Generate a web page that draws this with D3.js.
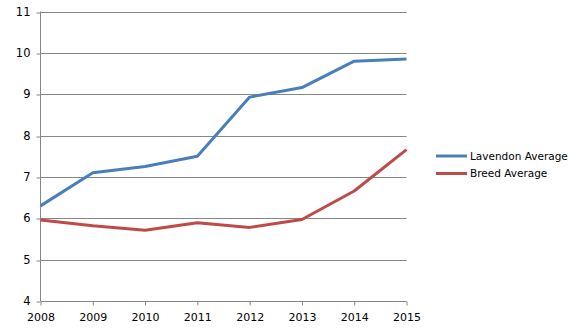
<!DOCTYPE html>
<html>
<head>
<meta charset="utf-8">
<script src="https://cdn.jsdelivr.net/npm/d3@7"></script>
<style>
  html, body { margin: 0; padding: 0; background: #fff; }
  svg { display: block; font-family: "DejaVu Sans", Verdana, sans-serif; }
</style>
</head>
<body>
<svg id="chart" width="581" height="332"></svg>
<script>
// Yearly averages
const years = [2008, 2009, 2010, 2011, 2012, 2013, 2014, 2015];
const lavendonAverage = [6.30, 7.10, 7.25, 7.50, 8.93, 9.16, 9.80, 9.85];
const breedAverage = [5.96, 5.82, 5.71, 5.89, 5.78, 5.97, 6.66, 7.66];
const yTicks = [4, 5, 6, 7, 8, 9, 10, 11];
const seriesNames = ["Lavendon Average", "Breed Average"];
const seriesColors = ["#4a7ebb", "#be4b48"];

(function () {
  const svg = d3.select("#chart");
  const plotLeft = 40.5, plotRight = 406.5, plotTop = 11.5, plotBottom = 301;

  const x = d3.scalePoint().domain(years).range([plotLeft, plotRight]);
  const y = d3.scaleLinear().domain([4, 11]).range([plotBottom, plotTop]);

  const gridColor = "#868686";
  const labelFont = "DejaVu Sans, Verdana, sans-serif";

  // Horizontal gridlines
  svg.append("g").selectAll("line").data(yTicks.slice(1)).join("line")
    .attr("x1", plotLeft).attr("x2", plotRight)
    .attr("y1", d => Math.round(y(d)) + 0.5).attr("y2", d => Math.round(y(d)) + 0.5)
    .attr("stroke", gridColor).attr("stroke-width", 1);

  // Y axis
  const yAxis = svg.append("g")
    .attr("transform", `translate(${plotLeft},0)`)
    .call(d3.axisLeft(y).tickValues(yTicks).tickSize(4).tickPadding(6).tickFormat(d3.format("d")));
  yAxis.selectAll("line").attr("stroke", gridColor)
    .attr("transform", d => `translate(0,${Math.round(y(d)) + 0.5 - y(d)})`);
  yAxis.select(".domain").attr("stroke", gridColor).attr("d", `M0,${plotTop}V${plotBottom}`);
  yAxis.selectAll("text").attr("font-size", 11.5).attr("fill", "#000")
    .attr("font-family", labelFont);

  // X axis
  const xAxis = svg.append("g")
    .attr("transform", `translate(0,${plotBottom + 0.5})`)
    .call(d3.axisBottom(x).tickSize(4).tickPadding(8).tickFormat(d3.format("d")));
  xAxis.select(".domain").attr("stroke", gridColor).attr("d", `M${plotLeft},0H${plotRight}`);
  xAxis.selectAll("line").attr("stroke", gridColor);
  xAxis.selectAll("text").attr("font-size", 11).attr("fill", "#000")
    .attr("font-family", labelFont);

  // Series lines
  const line = d3.line().x((d, i) => x(years[i])).y(d => y(d));
  [lavendonAverage, breedAverage].forEach((values, i) => {
    svg.append("path")
      .datum(values)
      .attr("d", line)
      .attr("fill", "none")
      .attr("stroke", seriesColors[i])
      .attr("stroke-width", 3)
      .attr("stroke-linejoin", "round");
  });

  // Legend
  const legend = svg.append("g").attr("transform", "translate(436,156)");
  seriesNames.forEach((name, i) => {
    const g = legend.append("g").attr("transform", `translate(0,${i * 17.5})`);
    g.append("line").attr("x1", 0).attr("x2", 31).attr("y1", 0).attr("y2", 0)
      .attr("stroke", seriesColors[i]).attr("stroke-width", 3);
    g.append("text").attr("x", 34).attr("y", 0).attr("dy", "0.35em")
      .attr("font-size", 10.5).attr("fill", "#000").text(name);
  });
})();
</script>
</body>
</html>
